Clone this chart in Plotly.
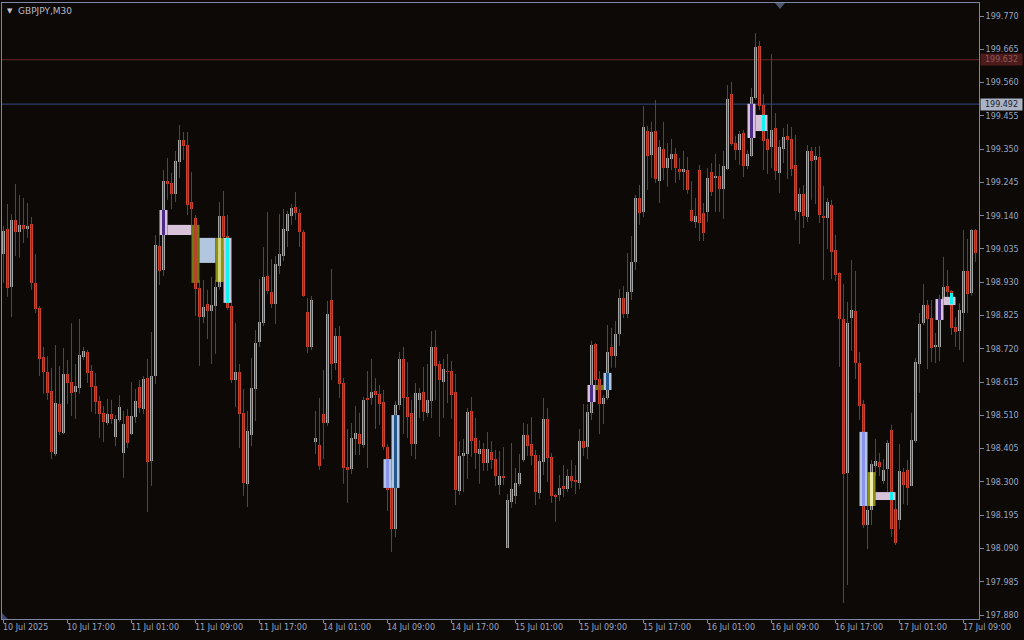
import plotly.graph_objects as go

# ---------------- data (GBPJPY M30) ----------------
opens = [
199.019,199.098,198.915,199.126,199.089,199.111,199.098,199.114,198.928,198.849,
198.694,198.647,198.587,198.388,198.546,198.454,198.641,198.615,198.584,198.596,
198.694,198.710,198.650,198.603,198.555,198.518,198.486,198.514,198.442,198.495,
198.391,198.508,198.451,198.505,198.600,198.530,198.628,198.366,198.634,199.044,
198.969,199.249,199.243,199.209,199.309,199.379,199.363,199.183,199.133,198.912,
198.820,198.861,198.839,198.855,198.915,199.139,199.076,198.855,198.622,198.647,
198.518,198.294,198.448,198.593,198.742,198.801,198.950,198.899,198.861,198.981,
199.013,199.092,199.139,199.167,199.149,199.089,198.836,198.726,198.426,198.417,
198.514,198.486,198.874,198.675,198.761,198.612,198.347,198.341,198.436,198.451,
198.417,198.562,198.565,198.587,198.578,198.552,198.410,198.281,198.152,198.543,
198.688,198.568,198.518,198.420,198.559,198.584,198.518,198.555,198.726,198.672,
198.615,198.650,198.650,198.584,198.271,198.382,198.388,198.524,198.439,198.388,
198.404,198.360,198.395,198.372,198.290,198.319,198.092,198.237,198.256,198.294,
198.369,198.448,198.420,198.385,198.265,198.363,198.499,198.379,198.259,198.259,
198.287,198.278,198.319,198.306,198.297,198.429,198.410,198.518,198.735,198.625,
198.546,198.565,198.726,198.697,198.767,198.880,198.830,198.899,198.994,199.196,
199.152,199.407,199.332,199.407,199.249,199.351,199.290,199.319,199.335,199.287,
199.278,199.284,199.158,199.120,199.284,199.149,199.152,199.278,199.259,199.265,
199.224,199.287,199.524,199.369,199.347,199.401,199.297,199.328,199.511,199.675,
199.489,199.382,199.357,199.417,199.275,199.351,199.392,199.382,199.300,199.152,
199.209,199.136,199.344,199.316,199.325,199.136,199.133,199.174,199.032,198.959,
198.814,198.328,198.817,198.839,198.675,198.546,198.164,198.212,198.350,198.363,
198.303,198.341,198.464,198.215,198.180,198.331,198.338,198.287,198.429,198.672,
198.801,198.858,198.817,198.726,198.726,198.877,198.918,198.902,198.789,198.776,
198.833,198.966,198.896,199.095]
highs = [
199.108,199.177,199.145,199.240,199.205,199.196,199.180,199.136,199.019,198.855,
198.726,198.697,198.660,198.732,198.666,198.723,198.685,198.801,198.672,198.814,
198.726,198.716,198.669,198.644,198.571,198.540,198.562,198.559,198.511,198.574,
198.524,198.530,198.615,198.593,198.622,198.634,198.688,198.773,199.079,199.079,
199.284,199.322,199.275,199.344,199.426,199.404,199.404,199.278,199.142,198.937,
198.937,198.906,198.947,198.937,199.183,199.218,199.142,198.874,198.801,198.672,
198.593,198.524,198.691,198.779,198.940,199.041,199.152,199.003,199.013,199.145,
199.161,199.155,199.177,199.215,199.161,199.095,198.880,198.887,198.524,198.565,
198.653,198.871,198.972,198.786,198.792,198.628,198.467,198.486,198.540,198.518,
198.568,198.650,198.688,198.628,198.606,198.590,198.420,198.306,198.555,198.710,
198.726,198.678,198.559,198.612,198.596,198.663,198.672,198.776,198.779,198.682,
198.688,198.704,198.682,198.641,198.429,198.436,198.533,198.568,198.502,198.432,
198.423,198.458,198.429,198.401,198.398,198.410,198.262,198.423,198.344,198.388,
198.486,198.483,198.505,198.401,198.385,198.565,198.533,198.391,198.262,198.322,
198.353,198.341,198.369,198.353,198.467,198.546,198.546,198.745,198.738,198.650,
198.574,198.795,198.786,198.808,198.909,198.918,199.022,199.076,199.205,199.237,
199.486,199.423,199.436,199.505,199.379,199.436,199.369,199.382,199.354,199.322,
199.344,199.325,199.249,199.196,199.300,199.180,199.290,199.306,199.335,199.303,
199.344,199.552,199.562,199.392,199.407,199.410,199.347,199.543,199.716,199.691,
199.524,199.410,199.650,199.464,199.379,199.417,199.429,199.420,199.395,199.227,
199.237,199.363,199.357,199.357,199.360,199.234,199.196,199.190,199.079,198.962,
198.925,198.868,199.000,198.966,198.710,198.559,198.227,198.369,198.436,198.391,
198.372,198.432,198.480,198.243,198.420,198.344,198.369,198.518,198.691,198.833,
198.925,198.874,198.874,198.770,198.890,199.010,198.969,198.906,198.820,198.864,
199.095,199.067,199.098,199.098]
lows = [
198.928,198.884,198.820,199.013,199.007,199.054,199.070,198.906,198.833,198.634,
198.578,198.559,198.372,198.382,198.448,198.451,198.546,198.508,198.499,198.578,
198.685,198.612,198.521,198.514,198.439,198.426,198.480,198.483,198.413,198.489,
198.313,198.407,198.448,198.486,198.518,198.514,198.205,198.287,198.609,198.921,
198.950,199.190,199.161,199.183,199.259,199.316,199.142,199.111,198.824,198.666,
198.801,198.751,198.672,198.704,198.906,199.032,198.843,198.612,198.536,198.407,
198.256,198.221,198.413,198.492,198.726,198.792,198.893,198.849,198.798,198.956,
198.997,199.041,199.111,199.126,199.041,198.884,198.707,198.716,198.388,198.338,
198.372,198.477,198.622,198.653,198.565,198.294,198.234,198.325,198.385,198.385,
198.407,198.344,198.543,198.467,198.480,198.401,198.208,198.079,198.126,198.527,
198.451,198.439,198.382,198.372,198.502,198.492,198.505,198.502,198.559,198.442,
198.502,198.549,198.499,198.227,198.259,198.268,198.309,198.379,198.341,198.294,
198.335,198.335,198.341,198.287,198.259,198.290,198.092,198.218,198.230,198.287,
198.363,198.382,198.353,198.227,198.246,198.322,198.300,198.234,198.174,198.240,
198.253,198.268,198.281,198.262,198.278,198.382,198.372,198.495,198.590,198.451,
198.483,198.559,198.660,198.660,198.729,198.817,198.817,198.874,198.969,199.111,
199.136,199.221,199.259,199.243,199.180,199.253,199.231,199.284,199.243,199.253,
199.221,199.209,199.120,199.101,199.060,199.060,199.120,199.202,199.152,199.152,
199.130,199.284,199.360,199.316,199.300,199.262,199.287,199.325,199.505,199.474,
199.284,199.272,199.290,199.253,199.212,199.306,199.256,199.265,199.126,199.051,
199.101,199.120,199.190,199.177,199.117,198.937,199.035,198.940,198.934,198.663,
197.918,197.975,198.713,198.625,198.495,198.155,198.088,198.164,198.319,198.319,
198.294,198.268,198.126,198.101,198.152,198.230,198.227,198.287,198.423,198.581,
198.795,198.656,198.678,198.675,198.682,198.874,198.884,198.764,198.726,198.716,
198.678,198.833,198.887,198.994]
closes = [
199.092,198.912,199.126,199.089,199.111,199.098,199.108,198.928,198.846,198.688,
198.647,198.581,198.395,198.549,198.458,198.641,198.612,198.581,198.603,198.701,
198.713,198.644,198.600,198.552,198.514,198.489,198.514,198.499,198.499,198.536,
198.483,198.423,198.508,198.555,198.533,198.625,198.363,198.634,199.048,198.966,
199.249,199.240,199.209,199.313,199.379,199.360,199.174,199.161,198.909,198.820,
198.852,198.839,198.858,198.915,199.139,199.073,198.849,198.622,198.647,198.514,
198.297,198.461,198.596,198.738,198.805,198.947,198.902,198.861,198.988,199.019,
199.098,199.145,199.164,199.149,199.089,198.887,198.726,198.874,198.439,198.350,
198.486,198.830,198.672,198.761,198.609,198.344,198.338,198.439,198.454,198.420,
198.559,198.559,198.584,198.574,198.546,198.410,198.275,198.152,198.543,198.688,
198.565,198.505,198.420,198.581,198.581,198.521,198.559,198.726,198.666,198.622,
198.656,198.647,198.574,198.275,198.382,198.391,198.521,198.429,198.391,198.404,
198.360,198.404,198.369,198.319,198.319,198.313,198.243,198.278,198.297,198.328,
198.448,198.413,198.382,198.268,198.366,198.499,198.376,198.256,198.253,198.281,
198.278,198.319,198.303,198.300,198.429,198.407,198.521,198.732,198.622,198.546,
198.565,198.710,198.697,198.767,198.880,198.830,198.899,198.994,199.196,199.149,
199.420,199.328,199.404,199.256,199.357,199.290,199.322,199.335,199.290,199.278,
199.287,199.221,199.123,199.139,199.117,199.085,199.259,199.215,199.265,199.224,
199.297,199.508,199.366,199.347,199.398,199.297,199.335,199.515,199.672,199.486,
199.376,199.347,199.410,199.281,199.357,199.388,199.379,199.287,199.155,199.209,
199.139,199.344,199.313,199.328,199.142,199.133,199.183,199.025,198.953,198.814,
198.325,198.801,198.843,198.675,198.540,198.164,198.212,198.357,198.366,198.347,
198.338,198.423,198.152,198.107,198.335,198.290,198.281,198.432,198.678,198.798,
198.858,198.814,198.723,198.732,198.877,198.915,198.899,198.786,198.773,198.843,
198.966,198.893,199.095,199.022]

# time axis labels (every 16 bars of M30)
label_bars = [0, 16, 32, 48, 64, 80, 96, 112, 128, 144, 160, 176, 192, 208, 224, 240]
label_texts = ["10 Jul 2025", "10 Jul 17:00", "11 Jul 01:00", "11 Jul 09:00",
               "11 Jul 17:00", "14 Jul 01:00", "14 Jul 09:00", "14 Jul 17:00",
               "15 Jul 01:00", "15 Jul 09:00", "15 Jul 17:00", "16 Jul 01:00",
               "16 Jul 09:00", "16 Jul 17:00", "17 Jul 01:00", "17 Jul 09:00"]

price_ticks = [199.770, 199.665, 199.560, 199.455, 199.350, 199.245, 199.140, 199.035,
               198.930, 198.825, 198.720, 198.615, 198.510, 198.405, 198.300, 198.195,
               198.090, 197.985, 197.880]

level_prices = [199.632, 199.492]

# indicator zones (bar range, price range)
zone_x0 = [39, 41, 47, 49, 53, 55, 95, 97, 146, 148, 150, 186, 188, 214, 216, 218, 233, 235]
zone_x1 = [41, 47, 49, 53, 55, 57, 97, 99, 148, 150, 152, 188, 191, 216, 218, 223, 235, 238]
zone_top = [199.158, 199.111, 199.111, 199.070, 199.070, 199.070, 198.372, 198.511, 198.606,
            198.606, 198.644, 199.493, 199.458, 198.458, 198.331, 198.268, 198.877, 198.884]
zone_bot = [199.079, 199.079, 198.928, 198.991, 198.931, 198.865, 198.281, 198.281, 198.552,
            198.590, 198.590, 199.385, 199.407, 198.224, 198.224, 198.243, 198.811, 198.858]
zone_kind = ["thistle", "thistle", "olive", "steel", "yellow", "thistle", "steel", "steel",
             "thistle", "olive", "steel", "thistle", "thistle", "steel", "yellow", "thistle",
             "thistle", "thistle"]

strip_bar = [40, 48, 54, 56, 96, 98, 147, 149, 151, 187, 190, 215, 217, 222, 234, 237]
strip_top = [199.158, 199.111, 199.070, 199.070, 198.372, 198.511, 198.606, 198.606, 198.644,
             199.493, 199.458, 198.458, 198.331, 198.268, 198.877, 198.896]
strip_bot = [199.079, 198.928, 198.931, 198.865, 198.281, 198.281, 198.552, 198.590, 198.590,
             199.385, 199.407, 198.224, 198.224, 198.243, 198.811, 198.861]
strip_kind = ["purple", "red", "paleyellow", "cyan", "cornflower", "darkblue", "purple", "red",
              "darkblue", "purple", "cyan", "cornflower", "paleyellow2", "cyan", "purple", "cyan"]

# ---------------- styling ----------------
BG = "#0c0907"
UP = "#a5a5a5"
DOWN = "#c9432f"
WICK = "#4a4a4a"
AXIS = "#7e86a0"
TXT = "#9aa6c0"
FONT = "DejaVu Sans"
ZONE_COL = {"thistle": "#d8c2da", "olive": "#6d7a12", "steel": "#b3c6df", "yellow": "#8e8e1a"}
STRIP_COL = {"purple": "#4b2c86", "red": "#b4452c", "paleyellow": "#d4d47a", "cyan": "#10f4f0",
             "cornflower": "#8c94f0", "darkblue": "#24588c", "paleyellow2": "#eeeeaa"}

idx = list(range(len(opens)))
bases, heights, colors = [], [], []
for o, c in zip(opens, closes):
    bases.append(min(o, c))
    heights.append(max(abs(c - o), 0.0028))
    colors.append(UP if c >= o else DOWN)

wx, wy = [], []
for i, h, l in zip(idx, highs, lows):
    wx += [i, i, None]
    wy += [l, h, None]

fig = go.Figure()
fig.add_trace(go.Scatter(x=wx, y=wy, mode="lines", line=dict(color=WICK, width=1),
                         hoverinfo="skip", showlegend=False))
fig.add_trace(go.Bar(x=idx, y=heights, base=bases, width=0.75,
                     marker=dict(color=colors, line=dict(width=0)),
                     hoverinfo="skip", showlegend=False))

shapes = []
# level lines
for p, col in zip(level_prices, ["#6b2626", "#3c4886"]):
    shapes.append(dict(type="line", xref="paper", x0=0, x1=1, yref="y", y0=p, y1=p,
                       line=dict(color=col, width=1), layer="below"))
# zones
for x0, x1, t, b, k in zip(zone_x0, zone_x1, zone_top, zone_bot, zone_kind):
    shapes.append(dict(type="rect", xref="x", yref="y", x0=x0, x1=x1, y0=b, y1=t,
                       fillcolor=ZONE_COL[k], line=dict(width=0), layer="above"))
for s, t, b, k in zip(strip_bar, strip_top, strip_bot, strip_kind):
    shapes.append(dict(type="rect", xref="x", yref="y", x0=s - 0.375, x1=s + 0.375, y0=b, y1=t,
                       fillcolor=STRIP_COL[k], line=dict(width=0), layer="above"))
# small markers (shift marker at top, corner marker)
shapes.append(dict(type="path", xref="paper", yref="paper",
                   path="M 0.7912 1.0 L 0.8014 1.0 L 0.7963 0.9903 Z",
                   fillcolor="#4d5670", line=dict(width=0)))
shapes.append(dict(type="path", xref="paper", yref="paper",
                   path="M 0.0 0.0 L 0.0 0.0097 L 0.0061 0.0 Z",
                   fillcolor="#3c4670", line=dict(width=0)))

annotations = []
for b, t in zip(label_bars, label_texts):
    annotations.append(dict(x=b, xref="x", y=0, yref="paper", text=t, showarrow=False,
                            xanchor="left", yanchor="top", xshift=-3, yshift=-2,
                            font=dict(family=FONT, size=8, color=TXT)))
# current-level price tags on the scale
annotations.append(dict(x=1, xref="paper", y=level_prices[0], yref="y", text="199.632",
                        showarrow=False, xanchor="left", yanchor="middle", xshift=1,
                        bgcolor="#4e1b1b", borderpad=1, width=39,
                        font=dict(family=FONT, size=8, color="#8a5a5a")))
annotations.append(dict(x=1, xref="paper", y=level_prices[1], yref="y", text="199.492",
                        showarrow=False, xanchor="left", yanchor="middle", xshift=1,
                        bgcolor="#aab2c4", borderpad=1, width=39,
                        font=dict(family=FONT, size=8, color="#1a1c28")))
# chart title
annotations.append(dict(x=0, xref="paper", y=1, yref="paper", text="▼", showarrow=False,
                        xanchor="left", yanchor="top", xshift=3, yshift=-2,
                        font=dict(family=FONT, size=7, color="#c4c4cc")))
annotations.append(dict(x=0, xref="paper", y=1, yref="paper", text="GBPJPY,M30", showarrow=False,
                        xanchor="left", yanchor="top", xshift=14, yshift=-1,
                        font=dict(family=FONT, size=9, color="#b8bac6")))

fig.update_layout(
    width=1024, height=640,
    margin=dict(l=2, r=45, t=3, b=21),
    paper_bgcolor=BG, plot_bgcolor=BG,
    showlegend=False, bargap=0,
    shapes=shapes, annotations=annotations,
    xaxis=dict(range=[-0.375, 243.875], showgrid=False, zeroline=False,
               showline=True, mirror=True, linecolor=AXIS, linewidth=1,
               tickmode="array", tickvals=label_bars, ticks="outside", ticklen=3,
               tickcolor=AXIS, showticklabels=False, fixedrange=True),
    yaxis=dict(range=[197.8676, 199.811], side="right", showgrid=False, zeroline=False,
               showline=True, mirror=True, linecolor=AXIS, linewidth=1,
               tickmode="array", tickvals=price_ticks,
               ticktext=["%.3f" % v for v in price_ticks],
               ticks="outside", ticklen=4, tickcolor=AXIS,
               tickfont=dict(family=FONT, size=8, color=TXT), fixedrange=True),
)

fig.write_html("out.html", config={"displayModeBar": False},
               post_script="document.body.style.margin='0';document.body.style.padding='0';"
                           "document.body.style.overflow='hidden';"
                           "document.body.style.background='#0c0907';")
